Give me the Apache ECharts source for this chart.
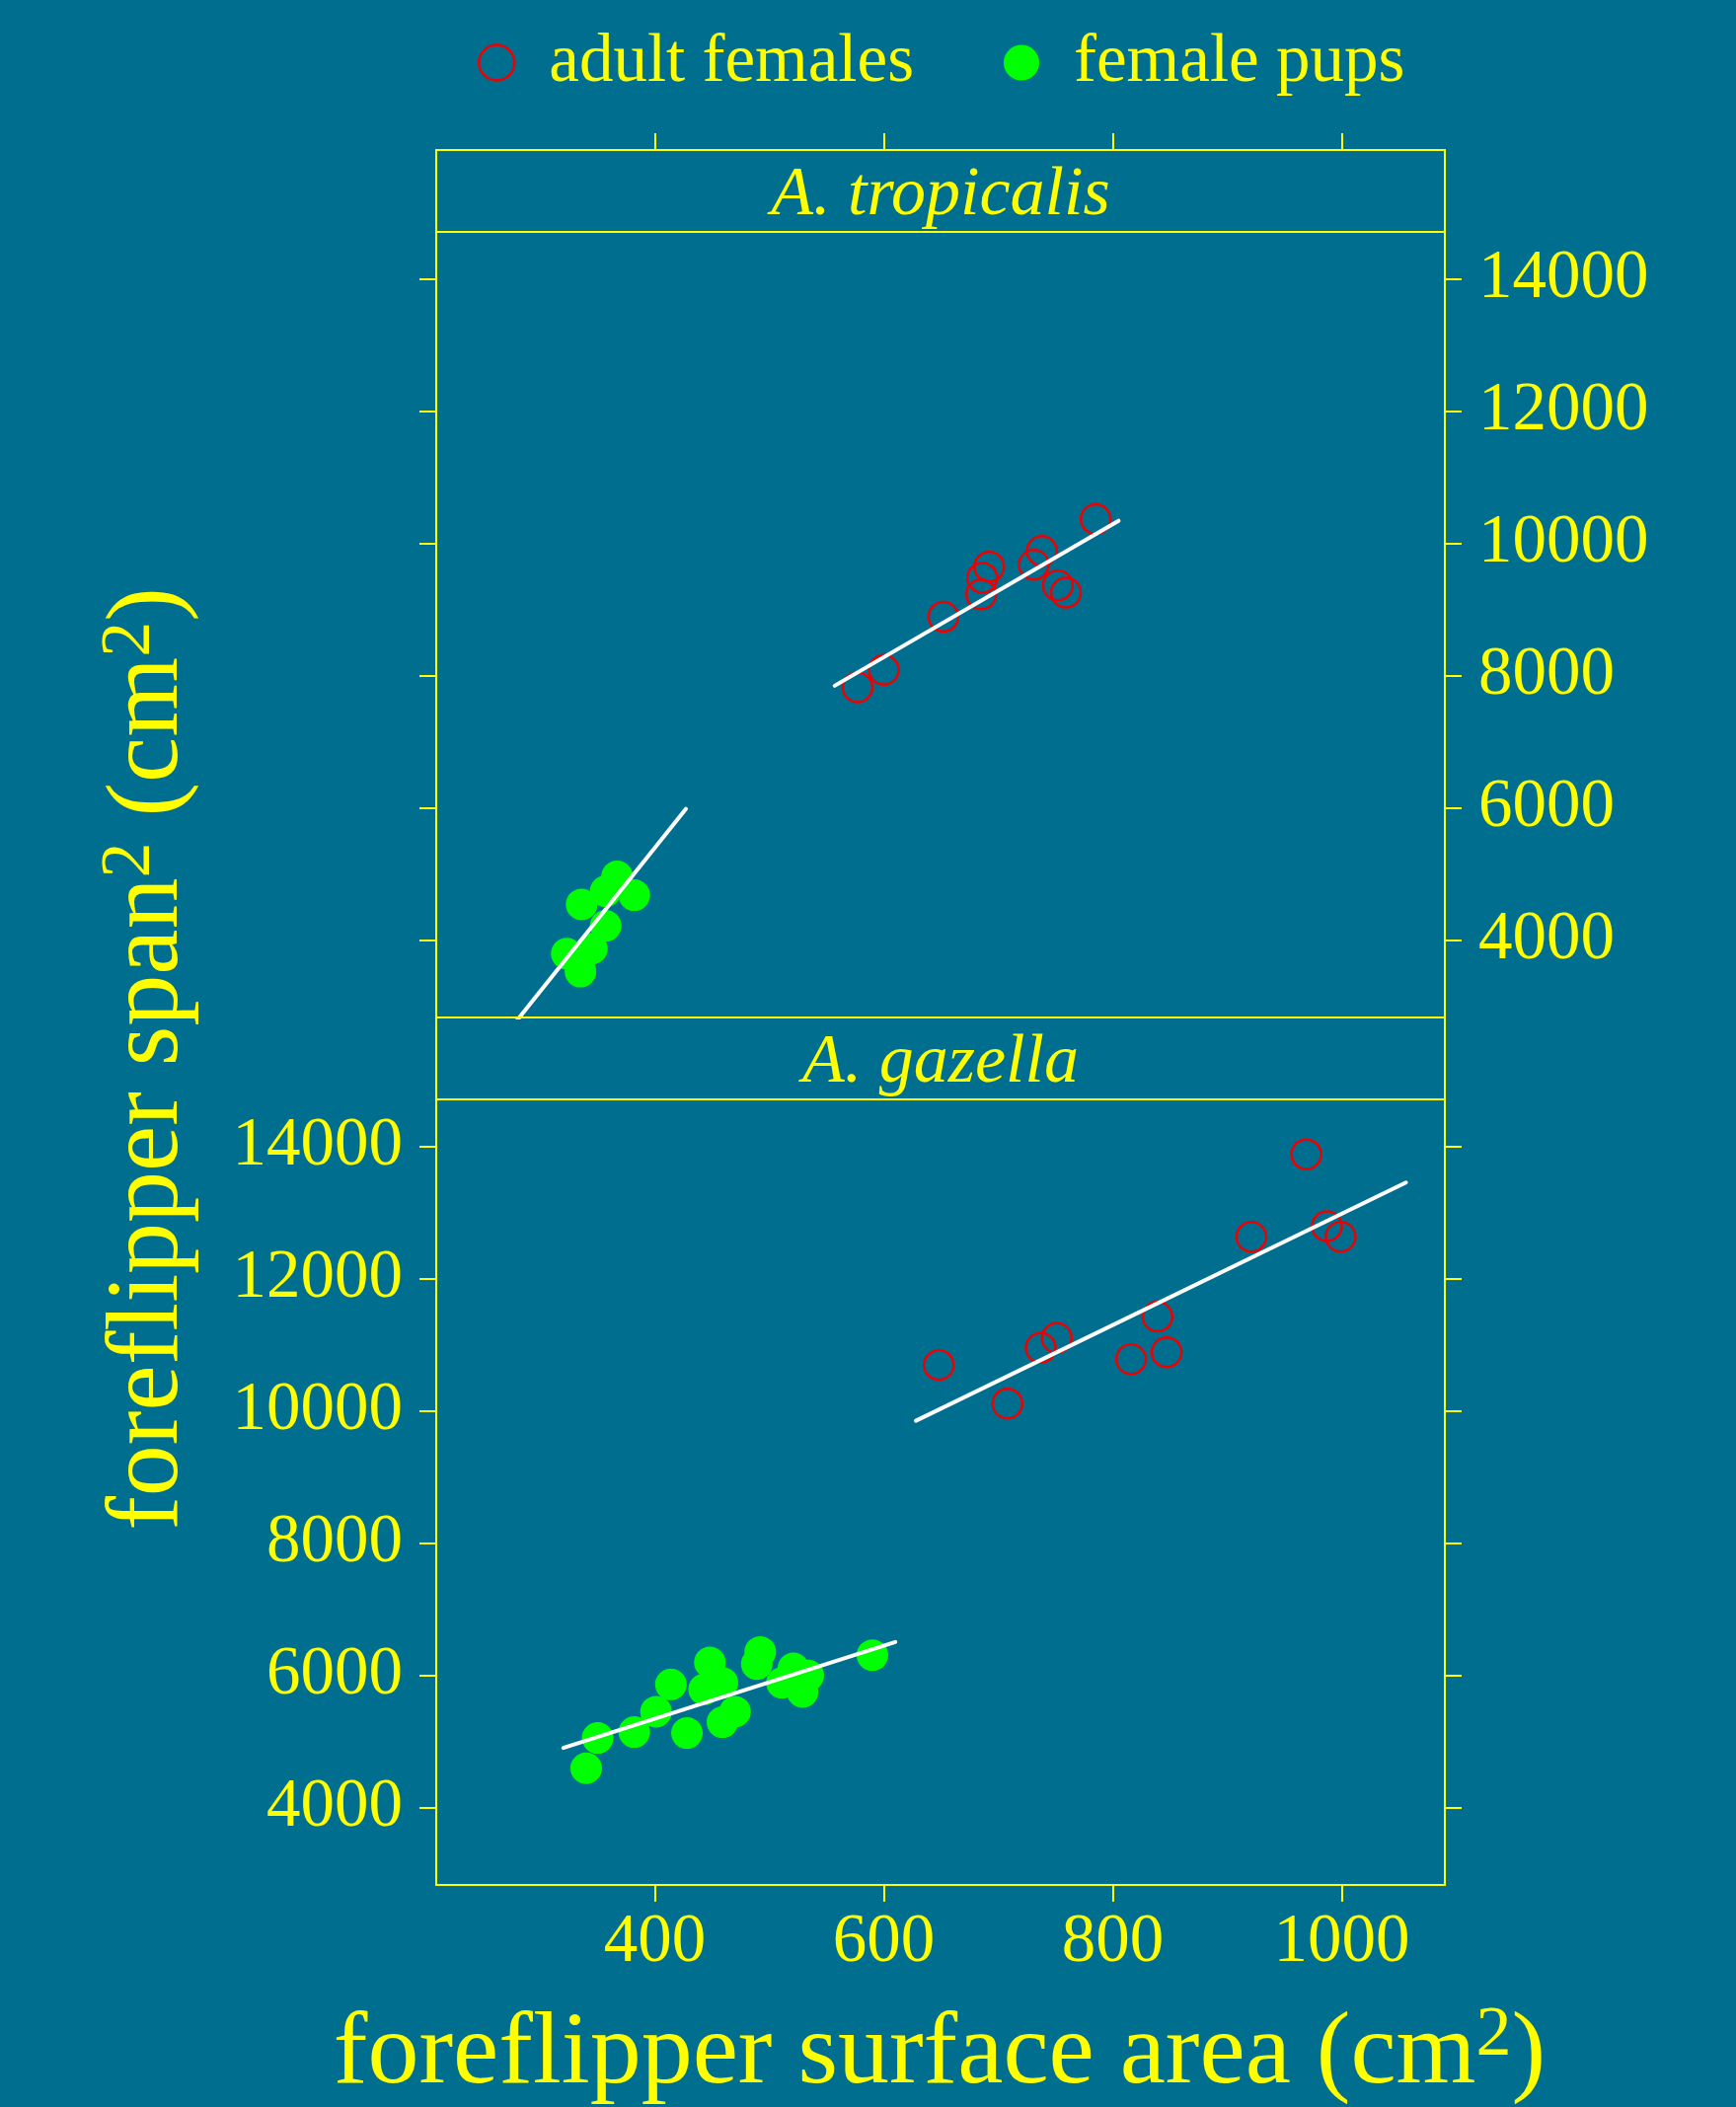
<!DOCTYPE html>
<html>
<head>
<meta charset="utf-8">
<script src="https://cdn.jsdelivr.net/npm/echarts@6/dist/echarts.min.js"></script>
<style>
html,body{margin:0;padding:0;background:#006f8f;}
#chart{width:1759px;height:2135px;}
</style>
</head>
<body>
<div id="chart"></div>
<script>
// ---------------- data ----------------
const panels = ['A. tropicalis', 'A. gazella'];
const seriesNames = ['adult females', 'female pups'];
const xTicks = [400, 600, 800, 1000];
const yTicks = [4000, 6000, 8000, 10000, 12000, 14000];
const xLimits = [209, 1090];
const yLimits = [2830, 14720];

// A. tropicalis
const tropAdults = [[577,7826],[600,8090],[652,8896],[692,9651],[686,9483],[685,9233],[738,9890],[731,9681],[752,9368],[759,9259],[785,10374]];
const tropPups = [[367,4965],[357,4741],[382,4681],[336,4542],[357,4218],[345,3871],[323,3796],[335,3523]];
const tropAdultFit = [[557,7851],[805,10348]];
const tropPupFit = [[275,2687],[427,5987]];

// A. gazella
const gazAdults = [[648,10700],[708,10114],[737,10960],[751,11109],[816,10786],[839,11432],[847,10894],[921,12641],[969,13886],[987,12800],[999,12641]];
const gazPups = [[340,4596],[350,5054],[382,5144],[401,5453],[414,5865],[428,5129],[443,5790],[448,6199],[459,5890],[459,5293],[470,5453],[489,6174],[492,6357],[511,5890],[521,6109],[534,5999],[529,5751],[590,6308]];
const gazAdultFit = [[628,9856],[1056,13462]];
const gazPupFit = [[320,4905],[610,6506]];

// ---------------- style ----------------
const FONT = "'Liberation Serif','Times New Roman',Times,serif";
const YEL = '#ffff00';
const RED = '#ee0000';
const GRN = '#00ff00';
const BG = '#006f8f';

const L = 442, W = 1022;
const G0 = {top: 235, height: 796};
const G1 = {top: 1114, height: 796};
const STRIP = 83;

function yAx(grid, pos, labels) {
  return {
    type: 'value', gridIndex: grid, position: pos,
    min: yLimits[0], max: yLimits[1],
    axisLine: {show: false}, splitLine: {show: false},
    axisTick: {show: true, inside: false, length: 17, customValues: yTicks, lineStyle: {color: YEL, width: 2}},
    axisLabel: {show: labels, customValues: yTicks, color: YEL, fontSize: 69, fontFamily: FONT, margin: 34,
                formatter: v => String(v)}
  };
}

function scatter(name, data, xi, yi, filled) {
  return {
    type: 'scatter', name: name, data: data, xAxisIndex: xi, yAxisIndex: yi,
    symbol: 'circle', symbolSize: filled ? 32 : 30,
    itemStyle: filled ? {color: GRN, opacity: 1} : {color: 'rgba(0,0,0,0)', borderColor: RED, borderWidth: 2.5, opacity: 1},
    z: 2, silent: true
  };
}
function fit(data, xi, yi) {
  return {
    type: 'line', name: 'fit', data: data, xAxisIndex: xi, yAxisIndex: yi,
    symbol: 'none', showSymbol: false, clip: true,
    lineStyle: {color: '#ffffff', width: 4, cap: 'round'}, z: 5, silent: true
  };
}

const supStyle = {fontSize: 72, fontFamily: FONT, fill: YEL, lineHeight: 40, verticalAlign: 'top'};

const option = {
  backgroundColor: BG,
  animation: false,
  textStyle: {fontFamily: FONT},
  legend: {
    top: 24, left: 479, itemWidth: 36, itemHeight: 36, itemGap: 91,
    textStyle: {color: YEL, fontSize: 69, fontFamily: FONT, padding: [0, 0, 0, 30]},
    data: [
      {name: seriesNames[0], icon: 'circle', itemStyle: {color: 'rgba(0,0,0,0)', borderColor: RED, borderWidth: 2.5}},
      {name: seriesNames[1], icon: 'circle', itemStyle: {color: GRN}}
    ],
    selectedMode: false
  },
  grid: [
    {left: L, width: W, top: G0.top, height: G0.height, show: true, borderColor: YEL, borderWidth: 2, backgroundColor: 'transparent'},
    {left: L, width: W, top: G1.top, height: G1.height, show: true, borderColor: YEL, borderWidth: 2, backgroundColor: 'transparent'}
  ],
  xAxis: [
    {type: 'value', gridIndex: 0, position: 'top', offset: STRIP, min: xLimits[0], max: xLimits[1],
     axisLine: {show: false}, splitLine: {show: false},
     axisTick: {show: true, length: 17, customValues: xTicks, lineStyle: {color: YEL, width: 2}},
     axisLabel: {show: false}},
    {type: 'value', gridIndex: 1, position: 'bottom', min: xLimits[0], max: xLimits[1],
     axisLine: {show: false}, splitLine: {show: false},
     axisTick: {show: true, length: 17, customValues: xTicks, lineStyle: {color: YEL, width: 2}},
     axisLabel: {show: true, customValues: xTicks, color: YEL, fontSize: 69, fontFamily: FONT, margin: 24,
                 formatter: v => String(v)}}
  ],
  yAxis: [
    yAx(0, 'left', false),
    yAx(0, 'right', true),
    yAx(1, 'left', true),
    yAx(1, 'right', false)
  ],
  series: [
    scatter(seriesNames[0], tropAdults, 0, 0, false),
    scatter(seriesNames[1], tropPups, 0, 0, true),
    fit(tropAdultFit, 0, 0),
    fit(tropPupFit, 0, 0),
    scatter(seriesNames[0], gazAdults, 1, 2, false),
    scatter(seriesNames[1], gazPups, 1, 2, true),
    fit(gazAdultFit, 1, 2),
    fit(gazPupFit, 1, 2)
  ],
  graphic: [
    {type: 'rect', shape: {x: L, y: G0.top - STRIP, width: W, height: STRIP},
     style: {fill: 'rgba(0,0,0,0)', stroke: YEL, lineWidth: 2}, z: 10},
    {type: 'rect', shape: {x: L, y: G1.top - STRIP, width: W, height: STRIP},
     style: {fill: 'rgba(0,0,0,0)', stroke: YEL, lineWidth: 2}, z: 10},
    {type: 'text', x: L + W / 2, y: G0.top - STRIP / 2 + 5, z: 10,
     style: {text: panels[0], fill: YEL, fontSize: 70, fontFamily: FONT, fontStyle: 'italic',
             align: 'center', verticalAlign: 'middle', textAlign: 'center', textVerticalAlign: 'middle'}},
    {type: 'text', x: L + W / 2, y: G1.top - STRIP / 2 + 5, z: 10,
     style: {text: panels[1], fill: YEL, fontSize: 70, fontFamily: FONT, fontStyle: 'italic',
             align: 'center', verticalAlign: 'middle', textAlign: 'center', textVerticalAlign: 'middle'}},
    {type: 'text', x: 952, y: 2083, z: 10,
     style: {text: 'foreflipper surface area (cm{sup|2})', fill: YEL, fontSize: 104, fontFamily: FONT, lineHeight: 112,
             align: 'center', verticalAlign: 'middle', textAlign: 'center', textVerticalAlign: 'middle',
             rich: {sup: supStyle}}},
    {type: 'text', x: 152, y: 1073, rotation: Math.PI / 2, z: 10,
     style: {text: 'foreflipper span{sup|2} (cm{sup|2})', fill: YEL, fontSize: 104, fontFamily: FONT, lineHeight: 112,
             align: 'center', verticalAlign: 'middle', textAlign: 'center', textVerticalAlign: 'middle',
             rich: {sup: supStyle}}}
  ]
};

const chart = echarts.init(document.getElementById('chart'), null, {renderer: 'canvas'});
chart.setOption(option);
</script>
</body>
</html>
